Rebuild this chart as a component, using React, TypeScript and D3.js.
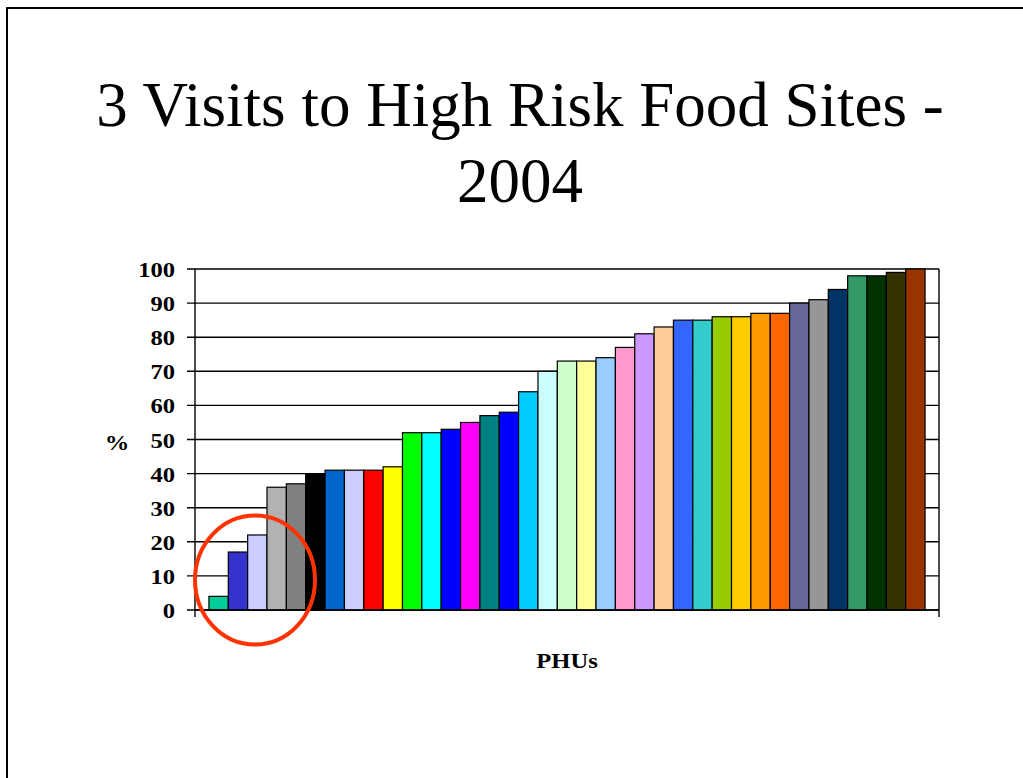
import * as d3 from 'd3'

// values, one bar per PHU (sorted ascending)
const values = [
  4, 17, 22, 36, 37, 40, 41, 41, 41, 42, 52, 52, 53, 55, 57, 58, 64, 70, 73, 73, 74, 77, 81, 83, 85, 85, 86, 86, 87,
  87, 90, 91, 94, 98, 98, 99, 100,
]
const colors = [
  '#00CC99', '#3333CC', '#CCCCFF', '#B2B2B2', '#808080', '#000000', '#0066CC', '#CCCCFF', '#FF0000', '#FFFF00',
  '#00FF00', '#00FFFF', '#0000FF', '#FF00FF', '#008080', '#0000FF', '#00CCFF', '#CCFFFF', '#CCFFCC', '#FFFF99',
  '#99CCFF', '#FF99CC', '#CC99FF', '#FFCC99', '#3366FF', '#33CCCC', '#99CC00', '#FFCC00', '#FF9900', '#FF6600',
  '#666699', '#969696', '#003366', '#339966', '#003300', '#333300', '#993300',
]
const yTicks = [0, 10, 20, 30, 40, 50, 60, 70, 80, 90, 100]
const titleLines = ['3 Visits to High Risk Food Sites -', '2004']
const yLabel = '%'
const xLabel = 'PHUs'

const W = 1023
const H = 778
const plot = { left: 195, right: 939, top: 269, bottom: 610 }
const serif = '"Liberation Serif", "Times New Roman", serif'
// chart text on the slide is a little wider than the plain font
const stretch = 1.17

function Label({ x, y, anchor, children }: { x: number; y: number; anchor: string; children: string | number }) {
  return (
    <text
      transform={`translate(${x},${y}) scale(${stretch},1)`}
      dy="0.36em"
      textAnchor={anchor}
      fontFamily={serif}
      fontWeight="bold"
      fontSize={21}
      fill="#000"
    >
      {children}
    </text>
  )
}

export default function App() {
  const x = d3
    .scaleBand<number>()
    .domain(values.map((_, i) => i))
    .range([plot.left, plot.right])
    .paddingInner(0)
    .paddingOuter(0.72)
  const y = d3.scaleLinear().domain([0, 100]).range([plot.bottom, plot.top])

  return (
    <div style={{ position: 'absolute', left: 0, top: 0 }}>
      <svg width={W} height={H} style={{ display: 'block', background: '#fff' }}>
        {/* slide frame */}
        <rect x={7} y={8} width={W + 20} height={H + 20} fill="none" stroke="#000" strokeWidth={2} />

        {titleLines.map((line, i) => (
          <text
            key={line}
            x={520}
            y={126 + i * 76}
            textAnchor="middle"
            fontFamily={serif}
            fontSize={63}
            fill="#000"
          >
            {line}
          </text>
        ))}

        {/* gridlines + ticks */}
        {yTicks.map((t) => (
          <g key={t}>
            <line x1={plot.left - 8} x2={plot.right} y1={y(t)} y2={y(t)} stroke="#000" strokeWidth={1.4} />
            <Label x={175} y={y(t) + 0.5} anchor="end">
              {t}
            </Label>
          </g>
        ))}

        {values.map((v, i) => (
          <rect
            key={i}
            x={x(i)}
            y={y(v)}
            width={x.bandwidth()}
            height={y(0) - y(v)}
            fill={colors[i]}
            stroke="#000"
            strokeWidth={1.2}
          />
        ))}

        {/* axes and plot frame */}
        <line x1={plot.left} x2={plot.left} y1={plot.top} y2={plot.bottom + 7} stroke="#000" strokeWidth={1.4} />
        <line x1={plot.right} x2={plot.right} y1={plot.top} y2={plot.bottom + 7} stroke="#000" strokeWidth={1.4} />
        <line x1={plot.left} x2={plot.right} y1={plot.bottom} y2={plot.bottom} stroke="#000" strokeWidth={1.4} />

        <Label x={117} y={y(50) + 3} anchor="middle">
          {yLabel}
        </Label>
        <Label x={(plot.left + plot.right) / 2} y={660} anchor="middle">
          {xLabel}
        </Label>

        {/* highlight around the lowest three */}
        <ellipse cx={255} cy={580} rx={60} ry={64.5} fill="none" stroke="#FF3300" strokeWidth={4} />
      </svg>
    </div>
  )
}
